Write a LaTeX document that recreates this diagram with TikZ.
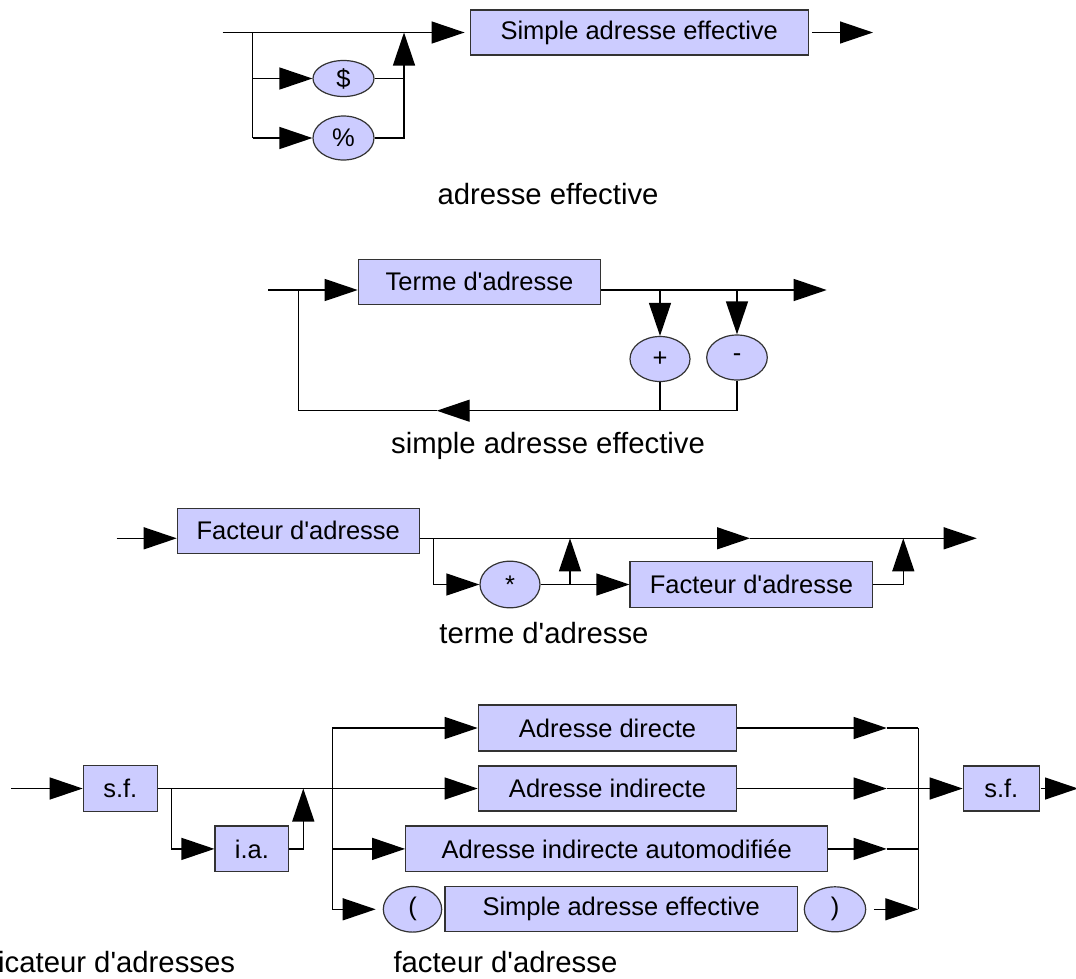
\documentclass[tikz,border=0pt]{standalone}
\usepackage{fontspec}
\newfontfamily\lsans{Liberation Sans}
\usetikzlibrary{arrows.meta,shapes.geometric}
\definecolor{boxfill}{HTML}{CCCCFF}
\definecolor{boxline}{HTML}{333333}
\tikzset{
  box/.style={draw=boxline, fill=boxfill, line width=1.2pt, inner sep=0pt,
    font=\lsans\fontsize{25.5}{30}\selectfont},
  oval/.style={ellipse, box},
  conn/.style={line width=1.3pt},
  arr/.style={conn, -{Triangle[length=33pt,width=22pt]}},
  caption/.style={font=\lsans\fontsize{29.3}{34}\selectfont, inner sep=0pt},
}
\begin{document}
\begin{tikzpicture}[x=1pt,y=-1pt]
\useasboundingbox (0,0) rectangle (1076,978);
\clip (0,0) rectangle (1076,978);

% ---------- adresse effective ----------
\node[box, minimum width=338pt, minimum height=45pt] (sae1) at (639.2,32.5) {Simple adresse effective};
\node[oval, minimum width=61pt, minimum height=36pt] (dollar) at (343.5,78.5) {\$};
\node[oval, minimum width=61pt, minimum height=44pt] (pct) at (343.5,138) {\%};
\coordinate (a1s) at (222.7,32.5);
\coordinate (a1j) at (252.7,32.5);
\coordinate (a1jd) at (252.7,78.5);
\coordinate (a1jp) at (252.7,138);
\coordinate (a1rd) at (404,78.5);
\coordinate (a1rp) at (404,138);
\coordinate (a1m) at (404,32.5);
\coordinate (a1out) at (873,32.5);
\draw[conn] (a1s) -- (a1j);
\draw[arr, shorten >=5pt] (a1j) -- (sae1.west);
\draw[conn] (a1j) -- (a1jp);
\draw[arr] (a1jd) -- (dollar.west);
\draw[arr] (a1jp) -- (pct.west);
\draw[conn] (dollar.east) -- (a1rd);
\draw[arr] (pct.east) -- (a1rp) -- (a1m);
\draw[arr, shorten <=3pt] (sae1.east) -- (a1out);
\node[caption, anchor=base] (cap1) at (548,204) {adresse effective};

% ---------- simple adresse effective ----------
\node[box, minimum width=242.4pt, minimum height=45pt] (terme) at (479.5,281.8) {Terme d'adresse};
\node[oval, minimum width=60pt, minimum height=45pt] (plus) at (660,359) {+};
\node[oval, minimum width=60.6pt, minimum height=45pt] (minus) at (737,357.5) {-};
\coordinate (b_s) at (268.3,290);
\coordinate (b_j) at (298.3,290);
\coordinate (b_p) at (660,290);
\coordinate (b_m) at (737,290);
\coordinate (b_out) at (826.7,290);
\coordinate (b_pb) at (660,410.7);
\coordinate (b_mb) at (737,410.7);
\coordinate (b_l) at (298.3,410.7);
\coordinate (b_mid) at (436.7,410.7);
\draw[conn] (b_s) -- (b_j);
\draw[arr] (b_j) -- (terme.west |- b_j);
\draw[arr] (terme.east |- b_j) -- (b_out);
\draw[arr] (b_p) -- (plus.north);
\draw[arr] (b_m) -- (minus.north);
\draw[conn] (plus.south) -- (b_pb);
\draw[conn] (minus.south) -- (b_mb) -- (b_pb);
\draw[arr] (b_pb) -- (b_mid);
\draw[conn] (b_mid) -- (b_l) -- (b_j);
\node[caption, anchor=base] (cap2) at (548,453.3) {simple adresse effective};

% ---------- terme d'adresse ----------
\node[box, minimum width=242pt, minimum height=45pt] (fa1) at (298.3,530.8) {Facteur d'adresse};
\node[oval, minimum width=60pt, minimum height=46.6pt] (star) at (510,584.5) {*};
\node[box, minimum width=242.7pt, minimum height=46pt] (fa2) at (751.4,584.5) {Facteur d'adresse};
\coordinate (c_s) at (116.7,538.3);
\coordinate (c_j) at (433.3,538.3);
\coordinate (c_jb) at (433.3,584.5);
\coordinate (c_u1) at (570,584.5);
\coordinate (c_u1t) at (570,538.3);
\coordinate (c_mid) at (750,538.3);
\coordinate (c_end) at (976.7,538.3);
\coordinate (c_u2) at (903.3,584.5);
\coordinate (c_u2t) at (903.3,538.3);
\draw[arr] (c_s) -- (fa1.west |- c_s);
\draw[arr] (fa1.east |- c_s) -- (c_mid);
\draw[arr] (c_mid) -- (c_end);
\draw[arr] (c_j) -- (c_jb) -- (star.west);
\draw[conn] (star.east) -- (c_u1);
\draw[arr] (c_u1) -- (fa2.west);
\draw[arr] (c_u1) -- (c_u1t);
\draw[arr] (fa2.east) -- (c_u2) -- (c_u2t);
\node[caption, anchor=base] (cap3) at (544,643.3) {terme d'adresse};

% ---------- facteur d'adresse ----------
\node[box, minimum width=74pt, minimum height=45.7pt] (sf1) at (120.3,788.5) {s.f.};
\node[box, minimum width=73.7pt, minimum height=45.7pt] (ia) at (251.9,848.9) {i.a.};
\node[box, minimum width=258.4pt, minimum height=46pt] (ad) at (607.5,728) {Adresse directe};
\node[box, minimum width=258.4pt, minimum height=45pt] (ai) at (607.5,788.5) {Adresse indirecte};
\node[box, minimum width=422pt, minimum height=45.7pt] (aia) at (616.7,848.9) {Adresse indirecte automodifiée};
\node[oval, minimum width=58.4pt, minimum height=45.6pt] (lp) at (412.5,909.3) {(};
\node[box, minimum width=352.3pt, minimum height=45pt] (sae2) at (621.2,909.3) {Simple adresse effective};
\node[oval, minimum width=61.4pt, minimum height=45pt] (rp) at (835,909.3) {)};
\node[box, minimum width=76pt, minimum height=45pt] (sf2) at (1001.3,788.5) {s.f.};
\coordinate (d_s) at (11,788.5);
\coordinate (d_j) at (171.7,788.5);
\coordinate (d_jb) at (171.7,848.9);
\coordinate (d_u) at (303.3,848.9);
\coordinate (d_ut) at (303.3,788.5);
\coordinate (d_sp) at (332.3,788.5);
\coordinate (d_sp1) at (332.3,728);
\coordinate (d_sp3) at (332.3,848.9);
\coordinate (d_sp4) at (332.3,909.3);
\coordinate (t1) at (886.7,728);
\coordinate (t2) at (886.7,788.5);
\coordinate (t3) at (886.7,848.9);
\coordinate (e1) at (918.3,728);
\coordinate (e2) at (918.3,788.5);
\coordinate (e3) at (918.3,848.9);
\coordinate (e4) at (918.3,909.3);
\coordinate (d_end) at (1078,788.5);
\draw[arr] (d_s) -- (sf1.west);
\draw[conn] (sf1.east) -- (d_sp);
\draw[arr] (d_sp) -- (ai.west);
\draw[arr] (d_j) -- (d_jb) -- (ia.west);
\draw[arr] (ia.east) -- (d_u) -- (d_ut);
\draw[conn] (d_sp1) -- (d_sp4);
\draw[arr] (d_sp1) -- (ad.west);
\draw[arr] (d_sp3) -- (aia.west);
\draw[arr, shorten >=7pt] (d_sp4) -- (lp.west);
\draw[arr] (ad.east) -- (t1);
\draw[conn] (t1) -- (e1);
\draw[arr] (ai.east) -- (t2);
\draw[conn] (t2) -- (e2);
\draw[arr] (aia.east) -- (t3);
\draw[conn] (t3) -- (e3);
\draw[arr, shorten <=7.5pt] (rp.east) -- (e4);
\draw[conn] (e1) -- (e4);
\draw[arr] (e2) -- (sf2.west);
\draw[arr, shorten <=1pt] (sf2.east) -- (d_end);
\node[caption, anchor=base west] (cap4) at (-2,972) {icateur d'adresses};
\node[caption, anchor=base west] (cap5) at (393.3,972) {facteur d'adresse};
\end{tikzpicture}
\end{document}
